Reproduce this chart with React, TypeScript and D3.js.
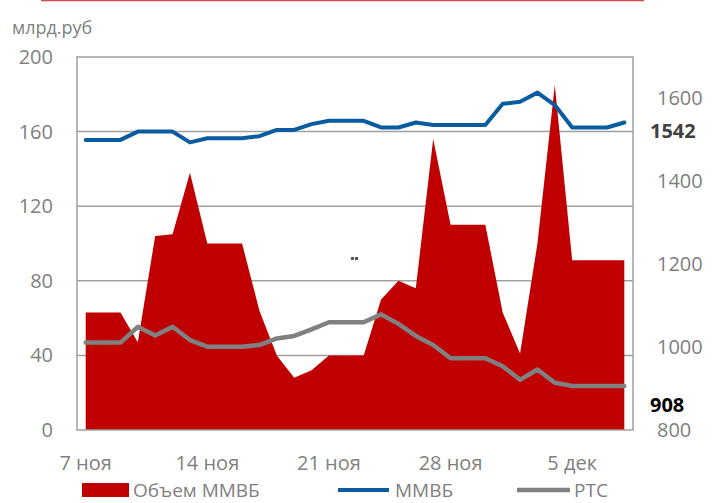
import { useRef, useEffect } from 'react';
import * as d3 from 'd3';

// trading days 7 Nov - 8 Dec (daily, weekends carry previous value)
const DAYS = [
  '11-07', '11-08', '11-09', '11-10', '11-11', '11-12', '11-13', '11-14',
  '11-15', '11-16', '11-17', '11-18', '11-19', '11-20', '11-21', '11-22',
  '11-23', '11-24', '11-25', '11-26', '11-27', '11-28', '11-29', '11-30',
  '12-01', '12-02', '12-03', '12-04', '12-05', '12-06', '12-07', '12-08',
];

// объем торгов ММВБ, млрд.руб (left axis)
const VOLUME = [
  63, 63, 63, 47, 104, 105, 138, 100, 100, 100, 64, 40, 28, 32, 40, 40,
  40, 70, 80, 76, 156, 110, 110, 110, 63, 41, 100, 185, 91, 91, 91, 91,
];

// индекс ММВБ (right axis)
const MMVB = [
  1500, 1500, 1500, 1520, 1520, 1520, 1494, 1504, 1504, 1504, 1509, 1524, 1524, 1538, 1546, 1546,
  1546, 1530, 1530, 1542, 1536, 1536, 1536, 1536, 1587, 1592, 1614, 1584, 1530, 1530, 1530, 1542,
];

// индекс РТС (right axis)
const RTS = [
  1011, 1011, 1011, 1049, 1028, 1049, 1017, 1001, 1001, 1001, 1005, 1021, 1027, 1043, 1060, 1060,
  1060, 1079, 1056, 1027, 1005, 973, 973, 973, 954, 921, 946, 914, 906, 906, 906, 906,
];

const TICK_DAYS = ['11-07', '11-14', '11-21', '11-28', '12-05'];
const TICK_LABELS = ['7 ноя', '14 ноя', '21 ноя', '28 ноя', '5 дек'];
const LEFT_TICKS = [0, 40, 80, 120, 160, 200];
const RIGHT_TICKS = [800, 1000, 1200, 1400, 1600];

const W = 712;
const H = 503;
const PLOT = { left: 77, right: 633, top: 57, bottom: 430 };
const FONT = "'Open Sans', sans-serif";
const GREY = '#808080';

const App = () => {
  const svgRef = useRef(null);

  useEffect(() => {
    const svg = d3.select(svgRef.current);
    svg.selectAll('*').remove();

    const x = d3.scalePoint().domain(DAYS).range([PLOT.left, PLOT.right]).padding(0.5);
    const yLeft = d3.scaleLinear().domain([0, 200]).range([PLOT.bottom, PLOT.top]);
    const yRight = d3.scaleLinear().domain([800, 1700]).range([PLOT.bottom, PLOT.top]);

    // red rule at the very top
    svg.append('line')
      .attr('x1', 41).attr('x2', 644).attr('y1', 0.5).attr('y2', 0.5)
      .attr('stroke', '#D24A4A').attr('stroke-width', 1.5);

    svg.append('text')
      .attr('x', 12).attr('y', 34)
      .attr('font-family', FONT).attr('font-size', 18).attr('fill', GREY)
      .text('млрд.руб');

    // gridlines
    svg.append('g').selectAll('line')
      .data(LEFT_TICKS.filter((t) => t > 0 && t < 200))
      .join('line')
      .attr('x1', PLOT.left).attr('x2', PLOT.right)
      .attr('y1', (d) => yLeft(d)).attr('y2', (d) => yLeft(d))
      .attr('stroke', '#A0A0A0').attr('stroke-width', 1.5);

    // volume area
    const area = d3.area()
      .x((d, i) => x(DAYS[i]))
      .y0(yLeft(0))
      .y1((d) => yLeft(d));
    svg.append('path').attr('d', area(VOLUME)).attr('fill', '#C00000');

    // frame
    svg.append('rect')
      .attr('x', PLOT.left).attr('y', PLOT.top)
      .attr('width', PLOT.right - PLOT.left).attr('height', PLOT.bottom - PLOT.top)
      .attr('fill', 'none').attr('stroke', '#A0A0A0').attr('stroke-width', 1.5);

    const line = d3.line()
      .x((d, i) => x(DAYS[i]))
      .y((d) => yRight(d));

    svg.append('path').attr('d', line(RTS))
      .attr('fill', 'none').attr('stroke', '#808080').attr('stroke-width', 4.5)
      .attr('stroke-linejoin', 'round').attr('stroke-linecap', 'round');
    svg.append('path').attr('d', line(MMVB))
      .attr('fill', 'none').attr('stroke', '#0A5CA0').attr('stroke-width', 4)
      .attr('stroke-linejoin', 'round').attr('stroke-linecap', 'round');

    // stray marker in the plot
    svg.append('rect').attr('x', 351).attr('y', 257).attr('width', 3).attr('height', 3).attr('fill', '#555');
    svg.append('rect').attr('x', 355).attr('y', 257).attr('width', 3).attr('height', 3).attr('fill', '#555');

    // left axis labels
    svg.append('g').selectAll('text')
      .data(LEFT_TICKS)
      .join('text')
      .attr('x', 53).attr('y', (d) => yLeft(d) + 7)
      .attr('text-anchor', 'end')
      .attr('font-family', FONT).attr('font-size', 20).attr('fill', GREY)
      .text((d) => d);

    // right axis labels
    svg.append('g').selectAll('text')
      .data(RIGHT_TICKS)
      .join('text')
      .attr('x', 657).attr('y', (d) => yRight(d) + 7)
      .attr('font-family', FONT).attr('font-size', 20).attr('fill', GREY)
      .text((d) => d);

    // last values
    svg.append('text')
      .attr('x', 650).attr('y', 138)
      .attr('font-family', FONT).attr('font-size', 20).attr('font-weight', 'bold').attr('fill', '#404040')
      .text(MMVB[MMVB.length - 1]);
    svg.append('text')
      .attr('x', 650).attr('y', 412)
      .attr('font-family', FONT).attr('font-size', 20).attr('font-weight', 'bold').attr('fill', '#000')
      .text(908);

    // x labels
    svg.append('g').selectAll('text')
      .data(TICK_DAYS)
      .join('text')
      .attr('x', (d) => x(d)).attr('y', 470)
      .attr('text-anchor', 'middle')
      .attr('font-family', FONT).attr('font-size', 20).attr('fill', GREY)
      .text((d, i) => TICK_LABELS[i]);

    // legend
    const lg = svg.append('g').attr('font-family', FONT).attr('font-size', 19).attr('fill', GREY);
    lg.append('rect').attr('x', 82).attr('y', 483).attr('width', 47).attr('height', 14).attr('fill', '#C00000');
    lg.append('text').attr('x', 133).attr('y', 497).text('Объем ММВБ');
    lg.append('line').attr('x1', 338).attr('x2', 389).attr('y1', 490).attr('y2', 490)
      .attr('stroke', '#0A5CA0').attr('stroke-width', 4);
    lg.append('text').attr('x', 395).attr('y', 497).text('ММВБ');
    lg.append('line').attr('x1', 517).attr('x2', 570).attr('y1', 490).attr('y2', 490)
      .attr('stroke', '#808080').attr('stroke-width', 4.5);
    lg.append('text').attr('x', 574).attr('y', 497).text('РТС');
  }, []);

  return (
    <svg
      ref={svgRef}
      width={W}
      height={H}
      style={{ position: 'absolute', left: 0, top: 0, background: '#fff' }}
    />
  );
};

export default App;
